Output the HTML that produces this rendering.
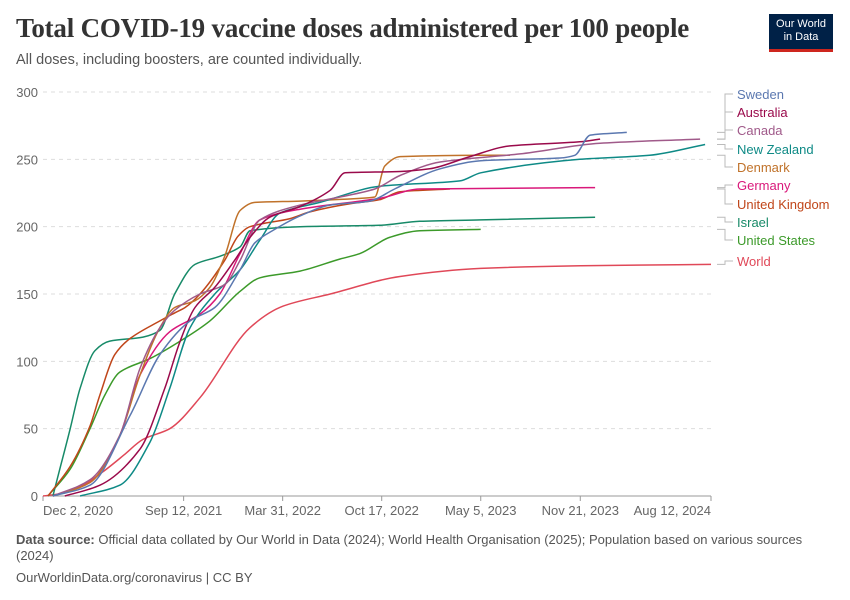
<!DOCTYPE html>
<html><head><meta charset="utf-8"><style>
body{margin:0;background:#fff;width:850px;height:600px;overflow:hidden;font-family:"Liberation Sans",sans-serif}
#title{position:absolute;left:16px;top:13px;font-family:"Liberation Serif",serif;font-size:27px;color:#333;font-weight:bold;letter-spacing:-0.2px}
#sub{position:absolute;left:16px;top:52px;font-size:14.5px;color:#555}
#logo{position:absolute;left:769px;top:14px;width:64px;height:38px;background:#002147;color:#fff;font-size:11px;text-align:center;line-height:13px;padding-top:4px;box-sizing:border-box;border-bottom:3px solid #ce261e}
#src{position:absolute;left:16px;top:532px;font-size:13px;color:#555;line-height:16px;width:800px}
#cc{position:absolute;left:16px;top:570px;font-size:13px;color:#555}
</style></head><body>
<div id="title">Total COVID-19 vaccine doses administered per 100 people</div>
<div id="sub">All doses, including boosters, are counted individually.</div>
<div id="logo">Our World<br>in Data</div>
<svg id="chart" width="850" height="600" style="position:absolute;left:0;top:0"></svg>
<div id="src"><b>Data source:</b> Official data collated by Our World in Data (2024); World Health Organisation (2025); Population based on various sources (2024)</div>
<div id="cc">OurWorldinData.org/coronavirus | CC BY</div>
<script>
const yTicks=[0,50,100,150,200,250,300];
const xTickDays=[0,284,484,684,884,1085,1349];
const xTickLabels=["Dec 2, 2020","Sep 12, 2021","Mar 31, 2022","Oct 17, 2022","May 5, 2023","Nov 21, 2023","Aug 12, 2024"];
const seriesNames=["Sweden","Australia","Canada","New Zealand","Denmark","Germany","United Kingdom","Israel","United States","World"];
const seriesColors=["#5b78b0","#9a0a4b","#a05a8a","#0e8a86","#c0722a","#d9187a","#c0461a","#178a68","#3c9a2a","#e04858"];
const labelY=[98,116,134,153,171,189,208,226,244,265];
const swedenDays=[20,95,176,236,297,347,398,428,468,519,580,660,710,802,884,1044,1074,1105,1179];
const swedenVals=[0,8,60,105,130,140,168,188,198,208,216,219,228,243,249,251,253,268,270];
const australiaDays=[44,115,196,246,277,307,347,387,418,458,519,580,610,721,781,862,943,1084,1125];
const australiaVals=[0,8,35,80,115,140,155,175,192,207,215,227,240,241,243,252,260,263,265];
const canadaDays=[20,95,155,196,236,266,317,367,398,438,519,600,670,721,802,963,1125,1327];
const canadaVals=[0,12,45,95,125,138,150,157,175,205,216,222,228,238,248,254,262,265];
const nzDays=[75,155,216,256,297,347,398,438,478,559,680,842,884,1084,1225,1337];
const nzVals=[0,8,40,80,125,150,168,190,210,218,230,234,240,250,253,261];
const denmarkDays=[20,95,155,196,236,266,307,337,367,398,428,519,640,670,690,721,884,943];
const denmarkVals=[0,10,45,90,125,140,145,155,178,212,218,219,221,222,245,252,253,253];
const germanyDays=[20,95,155,196,256,317,357,398,438,519,640,680,761,1115];
const germanyVals=[0,10,45,90,122,135,150,180,205,213,219,221,228,229];
const ukDays=[10,55,95,115,145,176,236,266,287,317,367,394,418,499,539,620,680,721,822];
const ukVals=[0,22,52,75,105,117,130,136,140,150,175,193,200,206,211,217,220,226,228];
const israelDays=[20,34,55,75,105,135,202,236,266,307,357,398,418,519,680,761,884,1115];
const israelVals=[0,20,50,80,108,115,118,123,150,172,178,185,197,200,201,204,205,207];
const usDays=[10,55,95,125,155,216,277,337,398,438,519,600,640,700,761,884];
const usVals=[0,20,50,75,92,102,115,130,152,162,167,176,180,192,197,198];
const worldDays=[0,40,81,121,162,202,256,317,418,485,580,721,884,1086,1349];
const worldVals=[0,2,8,18,30,42,50,73,125,141,150,163,169,171,172];
const allDays=[swedenDays,australiaDays,canadaDays,nzDays,denmarkDays,germanyDays,ukDays,israelDays,usDays,worldDays];
const allVals=[swedenVals,australiaVals,canadaVals,nzVals,denmarkVals,germanyVals,ukVals,israelVals,usVals,worldVals];

const NS="http://www.w3.org/2000/svg";
const svg=document.getElementById('chart');
const X0=43,X1=711,Y0=496,Y1=92;
const x=d=>X0+(X1-X0)*d/1349;
const y=v=>Y0-(Y0-Y1)*v/300;
function mk(t,a){const e=document.createElementNS(NS,t);for(const k in a)e.setAttribute(k,a[k]);svg.appendChild(e);return e;}
function monoPath(px,py){
  const n=px.length,d=[],m=[];
  for(let i=0;i<n-1;i++)d.push((py[i+1]-py[i])/(px[i+1]-px[i]));
  m[0]=d[0];m[n-1]=d[n-2];
  for(let i=1;i<n-1;i++)m[i]=(d[i-1]*d[i]<=0)?0:(2/(1/d[i-1]+1/d[i]));
  let s='M'+px[0].toFixed(1)+','+py[0].toFixed(1);
  for(let i=0;i<n-1;i++){const h=(px[i+1]-px[i])/3;
    s+=' C'+(px[i]+h).toFixed(1)+','+(py[i]+m[i]*h).toFixed(1)+' '+(px[i+1]-h).toFixed(1)+','+(py[i+1]-m[i+1]*h).toFixed(1)+' '+px[i+1].toFixed(1)+','+py[i+1].toFixed(1);}
  return s;
}
yTicks.forEach(t=>{
  if(t>0){const g=mk('line',{x1:X0,x2:X1,y1:y(t),y2:y(t),stroke:'#ddd','stroke-dasharray':'4 4'});
  
  }
  const l=mk('text',{x:38,y:y(t)+5,'text-anchor':'end','font-size':13,fill:'#666','font-family':'Liberation Sans'});
  l.textContent=t;
  
  
});
const ax=mk('line',{x1:X0,x2:X1,y1:Y0,y2:Y0,stroke:'#999'});


xTickDays.forEach((d,i)=>{
  const tk=mk('line',{x1:x(d),x2:x(d),y1:Y0,y2:Y0+5,stroke:'#999'});
  
  
  const anchor=i==0?'start':(i==xTickDays.length-1?'end':'middle');
  const l=mk('text',{x:x(d),y:Y0+19,'text-anchor':anchor,'font-size':13,fill:'#666','font-family':'Liberation Sans'});
  l.textContent=xTickLabels[i];
  
  
});
for(let s=allDays.length-1;s>=0;s--){
  const dd=allDays[s],vv=allVals[s];
  const p=mk('path',{d:monoPath(dd.map(x),vv.map(y)),fill:'none',stroke:seriesColors[s],'stroke-width':1.5,'stroke-linejoin':'round'});
  
  
}
seriesNames.forEach((n,s)=>{
  const vv=allVals[s];
  const ey=y(vv[vv.length-1]);
  const c=mk('polyline',{points:`${X1+6},${ey} ${X1+14},${ey} ${X1+14},${labelY[s]-4} ${X1+22},${labelY[s]-4}`,fill:'none',stroke:'#bbb','stroke-width':1});
  
  
  const t=mk('text',{x:737,y:labelY[s]+1,'font-size':13,fill:seriesColors[s],'font-family':'Liberation Sans'});
  t.textContent=n;
  
  
});
</script>
</body></html>
